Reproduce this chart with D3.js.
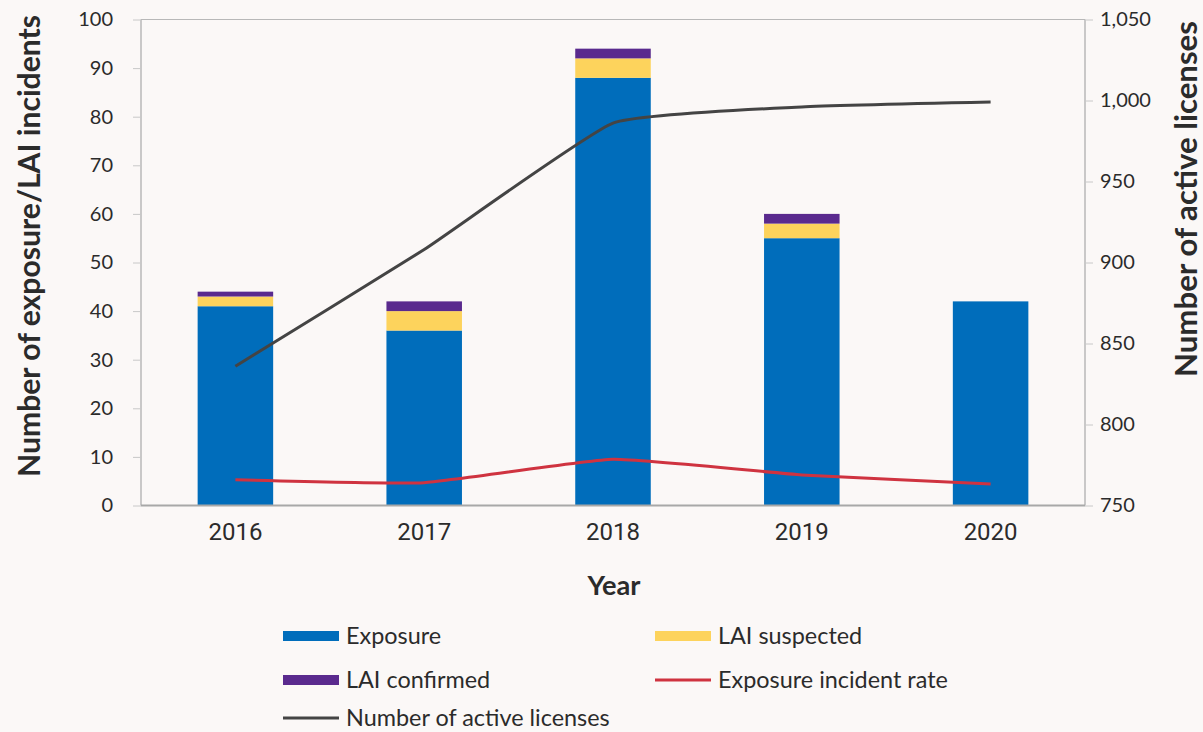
<!DOCTYPE html>
<html>
<head>
<meta charset="utf-8">
<script src="https://cdn.jsdelivr.net/npm/d3@7"></script>
<style>
  html, body { margin: 0; padding: 0; background: #fbf8f7; }
  svg { display: block; }
  text { font-family: Lato, "Noto Sans", sans-serif; fill: #2b2b2b; }
</style>
</head>
<body>
<svg id="chart" width="1203" height="732"></svg>
<script>
// ---- data ----
const years = ["2016", "2017", "2018", "2019", "2020"];
const exposure = [41, 36, 88, 55, 42];
const laiSuspected = [2, 4, 4, 3, 0];
const laiConfirmed = [1, 2, 2, 2, 0];
const incidentRate = [5.3, 4.7, 9.5, 6.3, 4.4];
const activeLicenses = [836, 908, 986, 996, 999];
const leftTicks = [0, 10, 20, 30, 40, 50, 60, 70, 80, 90, 100];
const rightTicks = [750, 800, 850, 900, 950, 1000, 1050];
const seriesNames = ["Exposure", "LAI suspected", "LAI confirmed", "Exposure incident rate", "Number of active licenses"];

const colors = {
  exposure: "#006dbb",
  suspected: "#fdd35c",
  confirmed: "#5a2a8e",
  rate: "#cf3340",
  licenses: "#444444"
};

const svg = d3.select("#chart");
const L = 141, R = 1085, T = 19.5, B = 505.5;

// fit a text element's font size so its length equals target
function fitText(sel, target) {
  const node = sel.node();
  const fs = parseFloat(sel.style("font-size"));
  const len = node.getComputedTextLength();
  if (len > 0) sel.style("font-size", (fs * target / len).toFixed(2) + "px");
  return sel;
}

const x = d3.scaleBand().domain(years).range([L, R]).paddingInner(0.6).paddingOuter(0.3);
const y = d3.scaleLinear().domain([0, 100]).range([B, T]);
const y2 = d3.scaleLinear().domain([750, 1050]).range([B, T]);

// stacked data
const rows = years.map((yr, i) => ({ year: yr, exposure: exposure[i], suspected: laiSuspected[i], confirmed: laiConfirmed[i] }));
const stack = d3.stack().keys(["exposure", "suspected", "confirmed"])(rows);

// bars
svg.append("g").selectAll("g").data(stack).join("g")
  .attr("fill", d => colors[d.key])
  .selectAll("rect").data(d => d).join("rect")
  .attr("x", d => x(d.data.year))
  .attr("width", x.bandwidth())
  .attr("y", d => y(d[1]))
  .attr("height", d => Math.max(0, y(d[0]) - y(d[1])));

// frame
svg.append("line").attr("x1", L).attr("x2", L).attr("y1", T).attr("y2", B).attr("stroke", "#a8a8a8").attr("stroke-width", 1.2);
svg.append("line").attr("x1", R).attr("x2", R).attr("y1", T).attr("y2", B).attr("stroke", "#a8a8a8").attr("stroke-width", 1.2);
svg.append("line").attr("x1", L).attr("x2", R).attr("y1", T).attr("y2", T).attr("stroke", "#b8b8b8").attr("stroke-width", 1);
svg.append("line").attr("x1", L).attr("x2", R).attr("y1", B).attr("y2", B).attr("stroke", "#a8a8a8").attr("stroke-width", 2);

// lines
const cx = d => x(d) + x.bandwidth() / 2;
const rateLine = d3.line().x((d, i) => cx(years[i])).y(d => y(d)).curve(d3.curveCardinal.tension(0.6));
const licLine = d3.line().x((d, i) => cx(years[i])).y(d => y2(d)).curve(d3.curveCardinal.tension(0.6));

svg.append("path").datum(activeLicenses).attr("d", licLine)
  .attr("fill", "none").attr("stroke", colors.licenses).attr("stroke-width", 3);
svg.append("path").datum(incidentRate).attr("d", rateLine)
  .attr("fill", "none").attr("stroke", colors.rate).attr("stroke-width", 3);

// left axis
const gl = svg.append("g").attr("transform", `translate(${L},0)`)
  .call(d3.axisLeft(y).tickValues(leftTicks).tickSize(8).tickPadding(20).tickFormat(d3.format("d")));
gl.select(".domain").remove();
gl.selectAll(".tick line").attr("stroke", "#c8c8c8");
gl.selectAll(".tick text").style("font-size", "20px").style("font-family", "Lato, 'Noto Sans', sans-serif").attr("fill", "#2b2b2b");

// right axis
const gr = svg.append("g").attr("transform", `translate(${R},0)`)
  .call(d3.axisRight(y2).tickValues(rightTicks).tickSize(8).tickPadding(7).tickFormat(d3.format(",")));
gr.select(".domain").remove();
gr.selectAll(".tick line").attr("stroke", "#c8c8c8");
gr.selectAll(".tick text").style("font-size", "20px").style("font-family", "Lato, 'Noto Sans', sans-serif").attr("fill", "#2b2b2b");

// x axis labels
const gx = svg.append("g").attr("transform", `translate(0,${B})`)
  .call(d3.axisBottom(x).tickSize(0).tickPadding(17));
gx.select(".domain").remove();
gx.selectAll(".tick text").style("font-size", "24px").style("font-family", "'Liberation Sans Narrow', 'Roboto', sans-serif").attr("fill", "#2b2b2b");

// axis titles
const t1 = svg.append("text").attr("transform", `translate(28,${(12 + 480) / 2}) rotate(-90)`)
  .attr("text-anchor", "middle").attr("dominant-baseline", "central")
  .style("font-size", "24px").style("font-weight", "bold")
  .text("Number of exposure/LAI incidents");
fitText(t1, 462);
const t2 = svg.append("text").attr("transform", `translate(1185,${(18 + 380) / 2}) rotate(-90)`)
  .attr("text-anchor", "middle").attr("dominant-baseline", "central")
  .style("font-size", "24px").style("font-weight", "bold")
  .text("Number of active licenses");
fitText(t2, 356);
const t3 = svg.append("text").attr("x", 614).attr("y", 595).attr("text-anchor", "middle")
  .style("font-size", "24px").style("font-weight", "bold").text("Year");
fitText(t3, 53);

// legend
const legendItems = [
  { name: seriesNames[0], type: "rect", color: colors.exposure, x: 283, y: 636 },
  { name: seriesNames[1], type: "rect", color: colors.suspected, x: 655, y: 636 },
  { name: seriesNames[2], type: "rect", color: colors.confirmed, x: 283, y: 680 },
  { name: seriesNames[3], type: "line", color: colors.rate, x: 655, y: 680 },
  { name: seriesNames[4], type: "line", color: colors.licenses, x: 283, y: 718 }
];
const lg = svg.append("g").selectAll("g").data(legendItems).join("g")
  .attr("transform", d => `translate(${d.x},${d.y})`);
lg.filter(d => d.type === "rect").append("rect")
  .attr("x", 0).attr("y", -5).attr("width", 56).attr("height", 10).attr("fill", d => d.color);
lg.filter(d => d.type === "line").append("line")
  .attr("x1", 0).attr("x2", 56).attr("y1", 0).attr("y2", 0).attr("stroke", d => d.color).attr("stroke-width", 3);
const lt = lg.append("text").attr("x", 63).attr("y", 0).attr("dy", "0.35em")
  .style("font-size", "20px").text(d => d.name);
// scale legend font so "Exposure incident rate" matches reference width
const ref = lt.filter(d => d.name === seriesNames[3]).node();
const scale = 230 / ref.getComputedTextLength();
lt.style("font-size", (20 * scale).toFixed(2) + "px");
</script>
</body>
</html>
